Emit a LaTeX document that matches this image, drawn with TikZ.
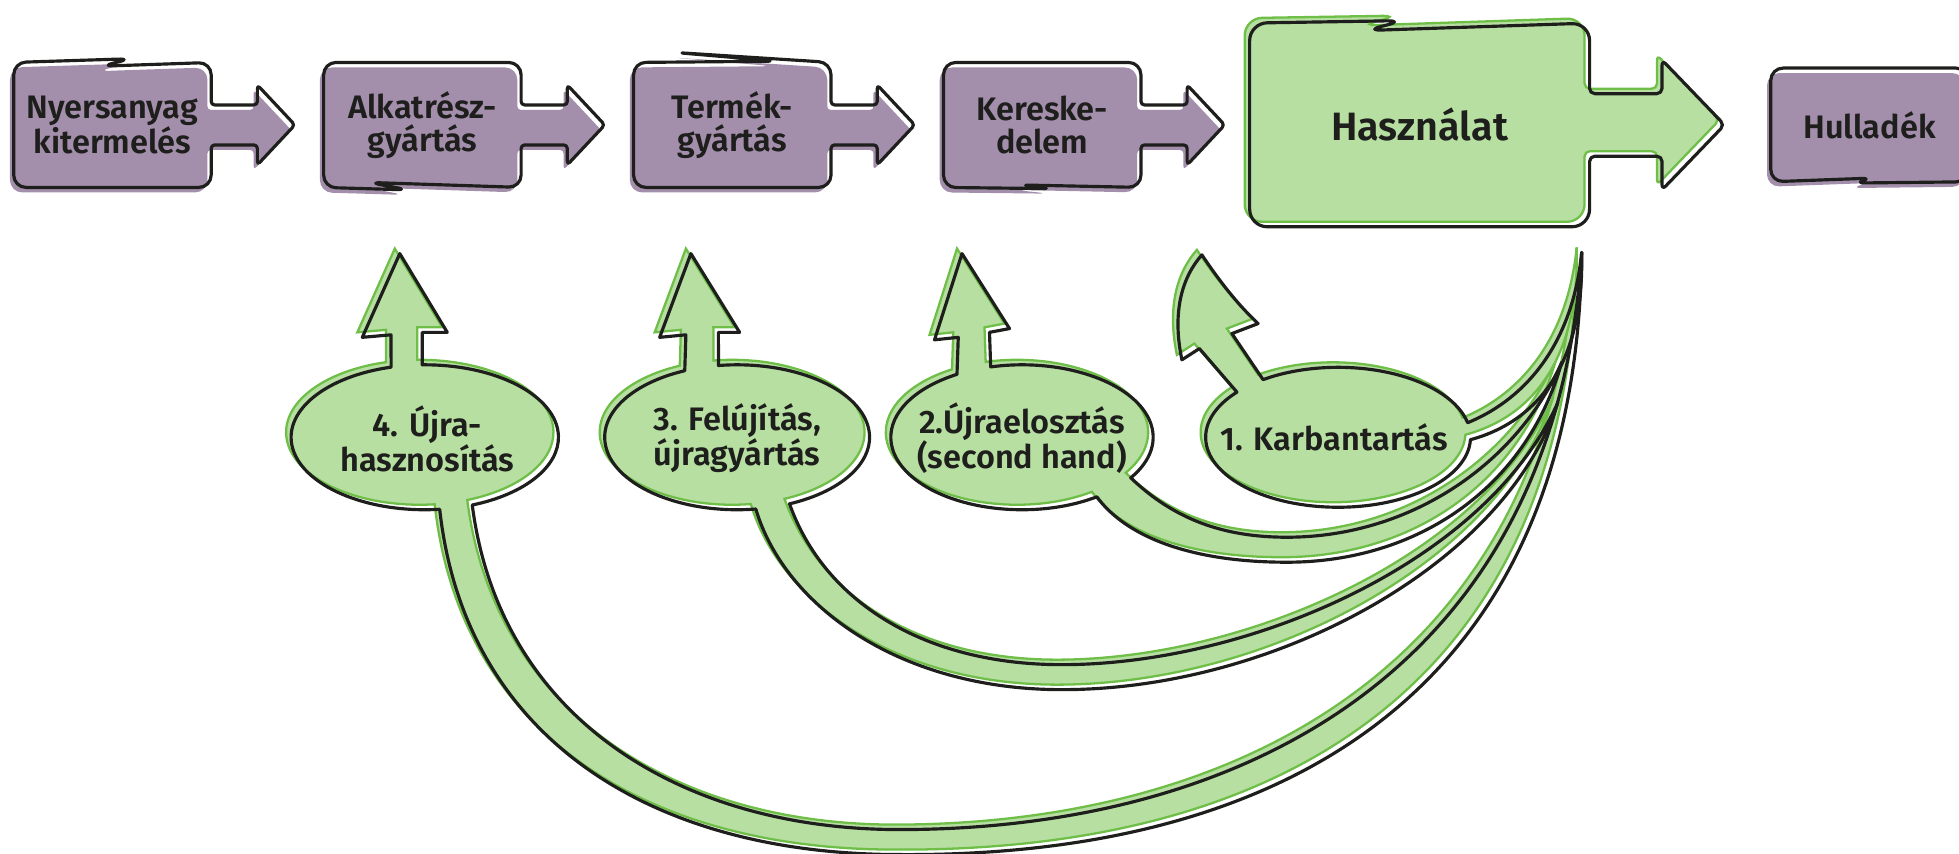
\documentclass[tikz,border=0pt]{standalone}
\usepackage{fontspec}
\setmainfont{Fira Sans}[BoldFont={Fira Sans SemiBold}]
\usetikzlibrary{positioning,calc,backgrounds}
\definecolor{boxpurple}{RGB}{163,143,171}
\definecolor{leafgreen}{RGB}{182,223,161}
\definecolor{edgegreen}{RGB}{110,190,72}
\definecolor{inkblack}{RGB}{30,30,28}
\tikzset{
  boxlabel/.style={align=center, text=inkblack, inner sep=0pt, outer sep=0pt, font=\bfseries\fontsize{18.5}{19}\selectfont},
  bigboxlabel/.style={boxlabel, font=\bfseries\fontsize{22.5}{24}\selectfont},
  ovallabel/.style={align=center, text=inkblack, font=\bfseries\fontsize{18.5}{20}\selectfont},
  purplebox/.style={draw=inkblack, line width=1.8pt, line join=round, rounded corners=7pt,
    preaction={fill=boxpurple, transform canvas={shift={(-3,4)}}}},
  greenbox/.style={draw=inkblack, line width=1.8pt, line join=round,
    preaction={fill=leafgreen, draw=edgegreen, line width=1.3pt, transform canvas={shift={(-4,-4)}}}}
}
\begin{document}
\begin{tikzpicture}[x=0.025cm, y=-0.025cm, node distance=6.2cm, on grid]
\useasboundingbox (0,0) rectangle (1568,683);
% chain of stages
\node [boxlabel, minimum width=3.95cm, minimum height=2.5cm] (nyers) at (90,100) {Nyersanyag\\kitermelés};
\node [boxlabel, minimum width=3.95cm, minimum height=2.5cm] (alkat) [right=of nyers] {Alkatrész-\\gyártás};
\node [boxlabel, minimum width=3.95cm, minimum height=2.5cm] (termek) [right=of alkat] {Termék-\\gyártás};
\node [boxlabel, minimum width=3.95cm, minimum height=2.5cm] (keres) [right=of termek] {Kereske-\\delem};
\node [bigboxlabel, minimum width=6.8cm, minimum height=4.075cm] (haszn) [right=7.55cm of keres] {Használat};
\node [boxlabel, minimum width=3.95cm, minimum height=2.275cm] (hull) [right=9cm of haszn] {Hulladék};
% loops
\node [ovallabel] (ujra) at (342,351) {4. Újra-\\hasznosítás};
\node [ovallabel] (felujit) at (590,351) {3. Felújítás,\\újragyártás};
\node [ovallabel] (eloszt) at (818,351) {2.Újraelosztás\\(second hand)};
\node [ovallabel] (karban) at (1068,350) {1. Karbantartás};
\begin{scope}[on background layer]
\draw [purplebox] (nyers.west) -- (nyers.north west) -- ($(nyers.north west)+(94,-3)$) -- ($(nyers.north west)+(70,3)$) -- (nyers.north east)
  [rounded corners=2pt] -- ($(nyers.east)+(0,-16)$) -- ++(37,0) -- ++(0,-16) -- ++(30,32) -- ++(-30,32) -- ++(0,-16) -- ++(-37,0)
  [rounded corners=7pt] -- (nyers.south east) -- (nyers.south west) -- cycle;
\draw [purplebox] (alkat.west) -- (alkat.north west) -- (alkat.north east)
  [rounded corners=2pt] -- ($(alkat.east)+(0,-16)$) -- ++(37,0) -- ++(0,-16) -- ++(30,32) -- ++(-30,32) -- ++(0,-16) -- ++(-37,0)
  [rounded corners=7pt] -- (alkat.south east) -- ($(alkat.south west)+(36,-4)$) -- ($(alkat.south west)+(68,2)$) -- (alkat.south west) -- cycle;
\draw [purplebox] (termek.west) -- (termek.north west) -- ($(termek.north west)+(115,-1)$) -- ($(termek.north west)+(33,-8)$) -- (termek.north east)
  [rounded corners=2pt] -- ($(termek.east)+(0,-16)$) -- ++(37,0) -- ++(0,-16) -- ++(30,32) -- ++(-30,32) -- ++(0,-16) -- ++(-37,0)
  [rounded corners=7pt] -- (termek.south east) -- (termek.south west) -- cycle;
\draw [purplebox] (keres.west) -- (keres.north west) -- (keres.north east)
  [rounded corners=2pt] -- ($(keres.east)+(0,-16)$) -- ++(37,0) -- ++(0,-16) -- ++(30,32) -- ++(-30,32) -- ++(0,-16) -- ++(-37,0)
  [rounded corners=7pt] -- (keres.south east) -- ($(keres.south west)+(60,-2)$) -- ($(keres.south west)+(88,1)$) -- (keres.south west) -- cycle;
\draw [purplebox] (hull.west) -- (hull.north west) -- (hull.north east) -- (hull.south east)
  -- ($(hull.south west)+(66,1)$) -- ($(hull.south west)+(82,-3)$) -- (hull.south west) -- cycle;
% 4. recycling
\draw [greenbox] ($(340,350)+(-104.6:107 and 58)$) -- (313,268) -- (290,270) -- (320,203) -- (358,266) -- (338,266)
  -- ($(340,350)+(-91.1:107 and 58)$) arc [start angle=-91.1, end angle=69.2, x radius=107, y radius=58]
  .. controls (400,575) and (545,664) .. (720,664)
  .. controls (990,664) and (1245,540) .. (1266,202)
  .. controls (1262,560) and (1020,686) .. (720,684)
  .. controls (520,684) and (372,590) .. ($(340,350)+(83.6:107 and 58)$)
  arc [start angle=83.6, end angle=255.4, x radius=107, y radius=58] -- cycle;
% 3. refurbishing
\draw [greenbox] ($(590,350)+(-113.3:106 and 58)$) -- (549,268) -- (528,270) -- (553,203) -- (592,266) -- (575,266)
  -- ($(590,350)+(-98.1:106 and 58)$) arc [start angle=-98.1, end angle=66.7, x radius=106, y radius=58]
  .. controls (660,482) and (740,532) .. (850,532)
  .. controls (1000,532) and (1190,450) .. (1247,322)
  .. controls (1205,452) and (1020,552) .. (850,552)
  .. controls (720,552) and (628,485) .. ($(590,350)+(81.9:106 and 58)$)
  arc [start angle=81.9, end angle=246.7, x radius=106, y radius=58] -- cycle;
% 2. redistribution
\draw [greenbox] ($(818,350)+(-119.7:105 and 58)$) -- (767,270) -- (748,272) -- (770,203) -- (808,263) -- (792,266)
  -- ($(818,350)+(-103.8:105 and 58)$) arc [start angle=-103.8, end angle=34, x radius=105, y radius=58]
  .. controls (940,416) and (980,430) .. (1030,430)
  .. controls (1130,430) and (1215,370) .. (1250,290)
  .. controls (1222,390) and (1135,450) .. (1030,450)
  .. controls (950,450) and (900,428) .. ($(818,350)+(55.2:105 and 58)$)
  arc [start angle=55.2, end angle=240.3, x radius=105, y radius=58] -- cycle;
% 1. maintenance
\draw [greenbox] ($(1071,350)+(-139.8:106 and 56)$) -- (960,279) -- (946,288)
  .. controls (938,250) and (946,222) .. (962,204)
  .. controls (978,228) and (993,246) .. (1007,259) -- (986,267)
  -- ($(1071,350)+(-124.5:106 and 56)$) arc [start angle=-124.5, end angle=-12, x radius=106, y radius=56]
  .. controls (1215,322) and (1258,282) .. (1266,202)
  .. controls (1268,290) and (1232,337) .. ($(1071,350)+(2:106 and 56)$)
  arc [start angle=2, end angle=220.2, x radius=106, y radius=56] -- cycle;
% use
\draw [greenbox, rounded corners=10pt] (haszn.west) -- (haszn.north west) -- ($(haszn.north west)+(124,-2)$) -- ($(haszn.north west)+(92,6)$) -- (haszn.north east)
  [rounded corners=3pt] -- ($(haszn.east)+(0,-25)$) -- ++(58,0) -- ++(0,-27) -- ++(50,52) -- ++(-50,52) -- ++(0,-27) -- ++(-58,0)
  [rounded corners=10pt] -- (haszn.south east) -- (haszn.south west) -- cycle;
\end{scope}
\end{tikzpicture}
\end{document}
